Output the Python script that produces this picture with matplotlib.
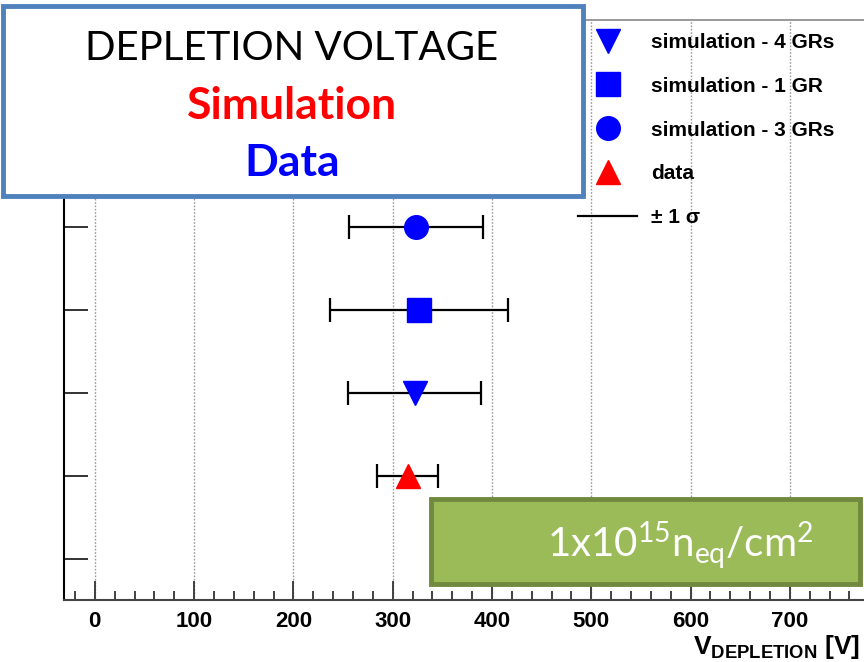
import numpy as np
import matplotlib
matplotlib.use("Agg")
import matplotlib.pyplot as plt
from matplotlib.lines import Line2D
from matplotlib.patches import Rectangle

# depletion voltage per configuration [V]
labels = ["simulation - 4 GRs", "simulation - 1 GR", "simulation - 3 GRs", "data"]
vdep = [322.6, 326.0, 323.6, 315.5]
vlow = [255.0, 237.0, 256.0, 284.0]
vhigh = [389.0, 416.0, 391.0, 346.0]
rows = [2.5, 3.5, 4.5, 1.5]
markers = ["v", "s", "o", "^"]
colors = ["#0000ff", "#0000ff", "#0000ff", "#ff0000"]

xticks = [0, 100, 200, 300, 400, 500, 600, 700]
yticks = [0.5, 1.5, 2.5, 3.5, 4.5, 5.5, 6.5]

plt.rcParams["font.family"] = ["Liberation Sans", "DejaVu Sans"]

W, H = 864, 662
fig = plt.figure(figsize=(W / 100, H / 100), dpi=100)
fig.patch.set_facecolor("white")

# axes runs off the right edge of the canvas
x0, x1 = -31.0, 790.0
px_per_v = 0.993
left_px, bottom_px, top_px = 64, 600, 20
width_px = (x1 - x0) * px_per_v
ax = fig.add_axes([left_px / W, 1 - bottom_px / H, width_px / W, (bottom_px - top_px) / H])
ax.set_xlim(x0, x1)
ax.set_ylim(0, 7)

for v, lo, hi, y, m, c in zip(vdep, vlow, vhigh, rows, markers, colors):
    ax.errorbar(v, y, xerr=[[v - lo], [hi - v]], fmt=m, color=c, ms=17,
                mec=c, ecolor="black", elinewidth=1.6, capsize=8.5, capthick=1.6, zorder=3)

ax.set_xticks(xticks)
ax.set_xticks(np.arange(-20, 790, 20), minor=True)
ax.set_yticks(yticks)
ax.set_yticklabels([])
ax.tick_params(axis="x", which="major", direction="in", length=14, width=1.3, color="#333333", pad=8)
ax.tick_params(axis="x", which="minor", direction="in", length=6.5, width=1.3, color="#333333")
ax.tick_params(axis="y", which="major", direction="in", length=17, width=1.4, color="#333333")
ax.tick_params(axis="y", which="minor", left=False)
for lab in ax.get_xticklabels():
    lab.set_fontweight("bold")
    lab.set_fontsize(16)

ax.grid(axis="x", which="major", linestyle=(0, (1.2, 1.2)), color="#999999", lw=1.0)
ax.set_axisbelow(True)
ax.spines["left"].set_color("black")
ax.spines["left"].set_linewidth(1.5)
ax.spines["bottom"].set_color("#444444")
ax.spines["bottom"].set_linewidth(1.5)
ax.spines["top"].set_color("#888888")
ax.spines["top"].set_linewidth(1.2)
ax.spines["right"].set_visible(False)

fig.text(860 / W, 1 - 647 / H, r"$\mathregular{V_{DEPLETION}}$ [V]", ha="right", va="center",
         fontsize=19, fontweight="bold")

# legend
handles = [Line2D([], [], ls="none", marker=m, color=c, ms=17) for m, c in zip(markers, colors)]
handles.append(Line2D([], [], color="black", lw=1.6))
leg_labels = labels + [r"± 1 σ"]
leg = fig.legend(handles, leg_labels, loc="upper left", bbox_to_anchor=(578 / W, 1 - 33 / H),
                 frameon=False, borderpad=0, borderaxespad=0, handlelength=2.84,
                 handletextpad=0.67, labelspacing=1.19, prop={"weight": "bold", "size": 15})

# title box
fig.patches.append(Rectangle((3 / W, 1 - 196 / H), 580 / W, 190 / H, transform=fig.transFigure,
                             facecolor="white", edgecolor="#4f81bd", lw=3.5, zorder=5))
fig.text(292 / W, 1 - 48 / H, "DEPLETION VOLTAGE", ha="center", va="center", fontsize=29,
         family="Lato", color="black", zorder=6)
fig.text(292 / W, 1 - 106 / H, "Simulation", ha="center", va="center", fontsize=32,
         family="Lato", fontweight="bold", color="#ff0000", zorder=6)
fig.text(292 / W, 1 - 163 / H, "Data", ha="center", va="center", fontsize=32,
         family="Lato", fontweight="bold", color="#0000ff", zorder=6)

# fluence box
fig.patches.append(Rectangle((431 / W, 1 - 584 / H), 429 / W, 85 / H, transform=fig.transFigure,
                             facecolor="#9bbb59", edgecolor="#71893f", lw=3.5, zorder=5))
fig.text(680 / W, 1 - 545 / H, r"$\mathregular{1x10^{15}n_{eq}/cm^{2}}$", ha="center", va="center",
         fontsize=29, family="Lato", color="white", zorder=6)

fig.savefig("out.png", dpi=100)
